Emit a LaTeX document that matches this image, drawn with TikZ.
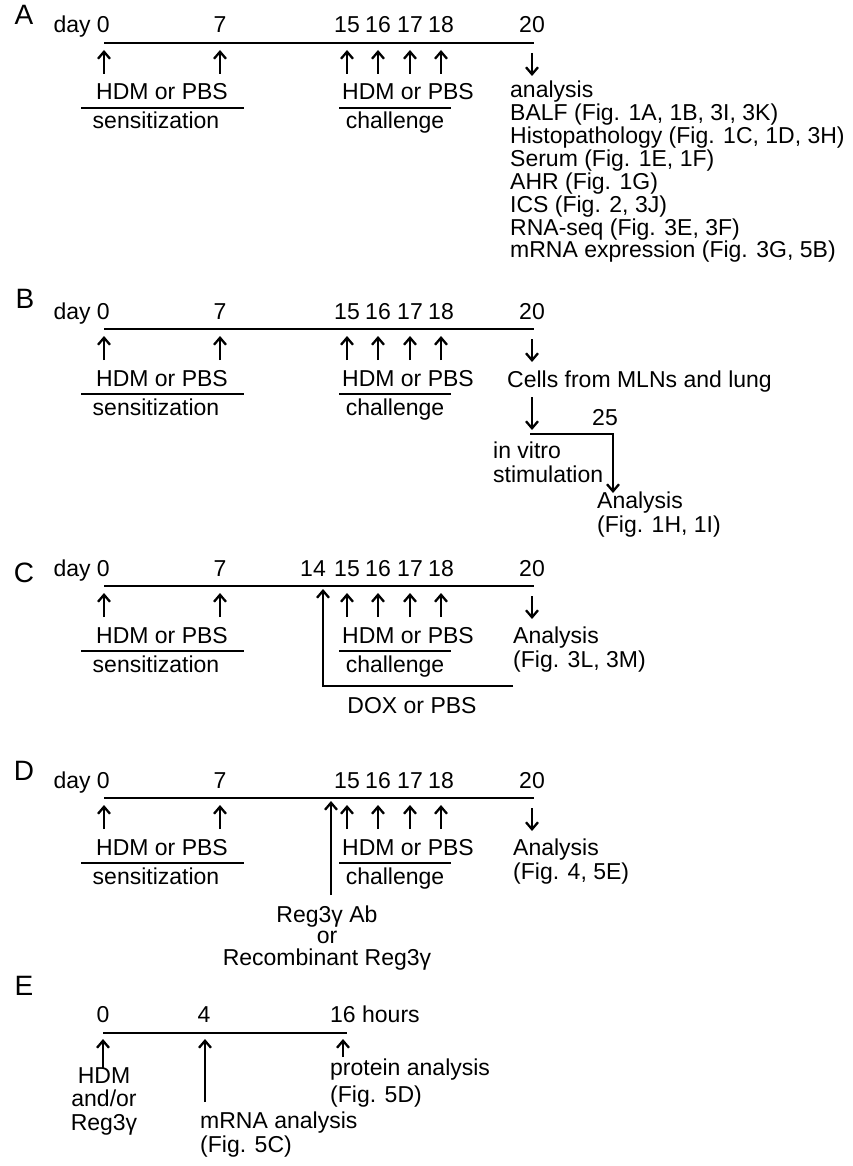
\documentclass[tikz,border=0pt]{standalone}
\usepackage{fontspec}
\setmainfont{Liberation Sans}
\usetikzlibrary{arrows.meta}
\tikzset{
  lbl/.style={inner sep=0pt, font=\fontsize{23}{23}\selectfont},
  panel/.style={inner sep=0pt, font=\fontsize{28}{28}\selectfont},
  axis/.style={line width=2.6pt},
  uline/.style={line width=2.4pt},
  arr/.style={line width=2.3pt, -{Straight Barb[length=7pt,width=12pt]}},
}

\begin{document}
\begin{tikzpicture}[x=1pt,y=-1pt]
	%%%%% START %%%%%
	\useasboundingbox (0,0) rectangle (852,1166);
	
	\node[panel] (labA) at (24,15) {A};
	\node[panel] (labB) at (25,299) {B};
	\node[panel] (labC) at (24,573) {C};
	\node[panel] (labD) at (24,771) {D};
	\node[panel] (labE) at (24,986) {E};
	
	% day 0 ... 20, the same in A to D
	\foreach \p/\y in {A/43,B/329,C/586,D/798}{
		\coordinate (\p-start) at (104,\y);
		\coordinate (\p-end) at (534,\y);
		\draw[axis] (\p-start) -- (\p-end);
		\node[lbl, anchor=base east] (\p-day) at (110,\y-10) {day 0};
		\foreach \d/\x in {7/220,15/347,16/378,17/410,18/441,20/532}
			\node[lbl, anchor=base] (\p-n\d) at (\x,\y-10) {\d};
		\foreach \d/\x in {0/104,7/220,15/347,16/378,17/410,18/441}{
			\coordinate (\p-tail\d) at (\x,\y+31);
			\coordinate (\p-tip\d) at (\x,\y+7);
			\draw[arr] (\p-tail\d) -- (\p-tip\d);
		}
		\coordinate (\p-out) at (532,\y+10);
		\coordinate (\p-in) at (532,\y+33);
		\draw[arr] (\p-out) -- (\p-in);
		
		\node[lbl, anchor=base] (\p-sens) at (162,\y+57) {HDM or PBS};
		\coordinate (\p-s1) at (81,\y+65);
		\coordinate (\p-s2) at (244,\y+65);
		\draw[uline] (\p-s1) -- (\p-s2);
		\node[lbl, anchor=base] (\p-senst) at (156,\y+86) {sensitization};
		
		\node[lbl, anchor=base] (\p-chal) at (408,\y+57) {HDM or PBS};
		\coordinate (\p-c1) at (339,\y+65);
		\coordinate (\p-c2) at (451,\y+65);
		\draw[uline] (\p-c1) -- (\p-c2);
		\node[lbl, anchor=base] (\p-chalt) at (395,\y+86) {challenge};
	}
	
	% A
	\node[lbl, anchor=base west, align=left, font=\fontsize{23}{22.9}\selectfont] (A-res) at (510,258)
		{analysis\\BALF (Fig. 1A, 1B, 3I, 3K)\\Histopathology (Fig. 1C, 1D, 3H)\\Serum (Fig. 1E, 1F)\\AHR (Fig. 1G)\\ICS (Fig. 2, 3J)\\RNA-seq (Fig. 3E, 3F)\\mRNA expression (Fig. 3G, 5B)};
	
	% B
	\node[lbl, anchor=base west] (B-cells) at (507,387) {Cells from MLNs and lung};
	\coordinate (B-c1) at (532,397);
	\coordinate (B-c2) at (532,430);
	\draw[arr] (B-c1) -- (B-c2);
	\node[lbl, anchor=base] (B-n25) at (605,425) {25};
	\coordinate (B-v1) at (530,434);
	\coordinate (B-v2) at (613,493);
	\draw[arr] (B-v1) -| (B-v2);
	\node[lbl, anchor=base west, align=left, font=\fontsize{23}{24}\selectfont] (B-vitro) at (493,482) {in vitro\\stimulation};
	\node[lbl, anchor=base west, align=left, font=\fontsize{23}{24}\selectfont] (B-res) at (597,532) {Analysis\\(Fig. 1H, 1I)};
	
	% C
	\node[lbl, anchor=base] (C-n14) at (313,576) {14};
	\coordinate (C-x1) at (513,686);
	\coordinate (C-x2) at (323,686);
	\coordinate (C-x3) at (323,589);
	\draw[arr] (C-x1) -- (C-x2) -- (C-x3);
	\node[lbl, anchor=base] (C-dox) at (412,713) {DOX or PBS};
	\node[lbl, anchor=base west, align=left, font=\fontsize{23}{24}\selectfont] (C-res) at (513,667) {Analysis\\(Fig. 3L, 3M)};
	
	% D
	\coordinate (D-r1) at (331,895);
	\coordinate (D-r2) at (331,801);
	\draw[arr] (D-r1) -- (D-r2);
	\node[lbl, anchor=base, align=center, font=\fontsize{23}{21.5}\selectfont] (D-reg) at (327,965) {Reg3γ Ab\\or\\Recombinant Reg3γ};
	\node[lbl, anchor=base west, align=left, font=\fontsize{23}{24}\selectfont] (D-res) at (513,879) {Analysis\\(Fig. 4, 5E)};
	
	% E
	\coordinate (E-start) at (103,1033);
	\coordinate (E-end) at (347,1033);
	\draw[axis] (E-start) -- (E-end);
	\node[lbl, anchor=base] (E-h0) at (103,1022) {0};
	\node[lbl, anchor=base] (E-h4) at (204,1022) {4};
	\node[lbl, anchor=base west] (E-h16) at (330,1022) {16 hours};
	\coordinate (E-a0) at (103,1068);
	\coordinate (E-b0) at (103,1039);
	\draw[arr] (E-a0) -- (E-b0);
	\coordinate (E-a4) at (205,1102);
	\coordinate (E-b4) at (205,1039);
	\draw[arr] (E-a4) -- (E-b4);
	\coordinate (E-a16) at (343,1057);
	\coordinate (E-b16) at (343,1039);
	\draw[arr] (E-a16) -- (E-b16);
	\node[lbl, anchor=base, align=center, font=\fontsize{23}{23.5}\selectfont] (E-hdm) at (104,1130) {HDM\\and/or\\Reg3γ};
	\node[lbl, anchor=base west, align=left, font=\fontsize{23}{27}\selectfont] (E-prot) at (330,1102) {protein analysis\\(Fig. 5D)};
	\node[lbl, anchor=base west, align=left, font=\fontsize{23}{24}\selectfont] (E-mrna) at (200,1152) {mRNA analysis\\(Fig. 5C)};
	
	%%%%% END %%%%%
\end{tikzpicture}
\end{document}
